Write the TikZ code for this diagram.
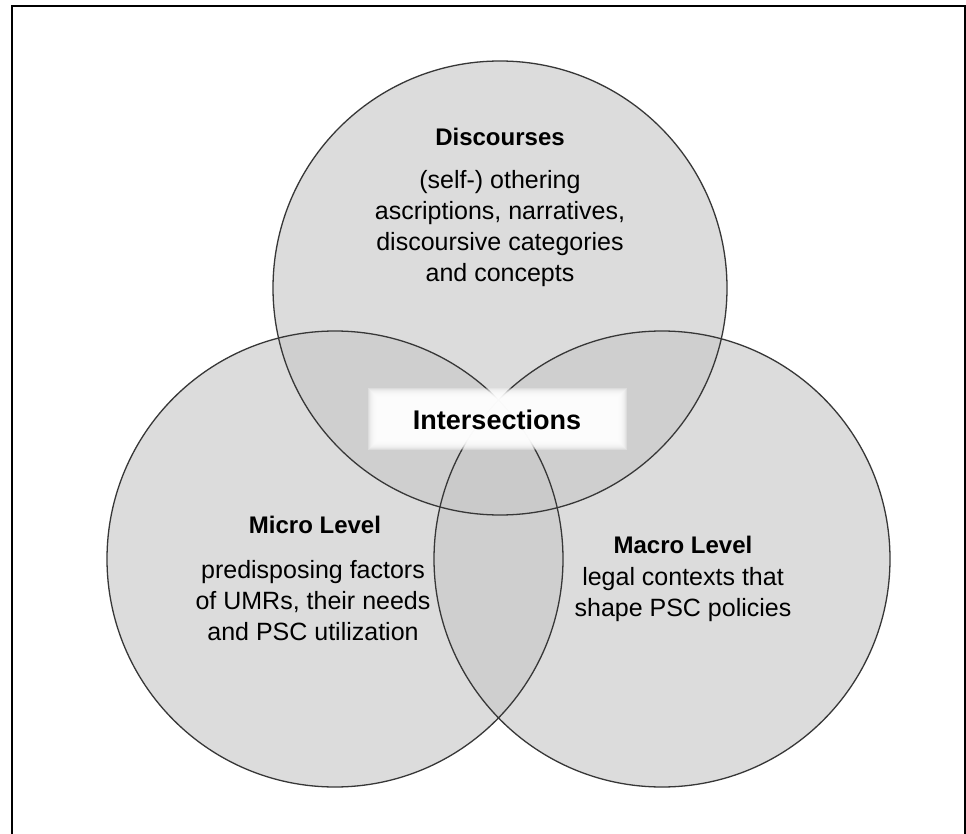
\documentclass[tikz,border=0pt]{standalone}
\usepackage{fontspec}
\setmainfont{Liberation Sans}
\definecolor{cfill}{RGB}{200,200,200}
\definecolor{lineclr}{RGB}{55,55,55}
\begin{document}
\begin{tikzpicture}[x=1pt,y=-1pt,
  circfill/.style={fill=cfill, fill opacity=0.62},
  circline/.style={draw=lineclr, line width=1.3pt},
  head/.style={font=\bfseries\fontsize{24}{30}\selectfont, align=center, inner sep=0pt},
  body/.style={font=\fontsize{25}{31}\selectfont, align=center, inner sep=0pt},
  ihead/.style={font=\bfseries\fontsize{27}{30}\selectfont, inner sep=0pt},
  glow/.style={fill=white, fill opacity=0.28, draw=none}]
\useasboundingbox (0,0) rectangle (966,834);
\clip (0,0) rectangle (966,834);
\fill[white] (0,0) rectangle (966,834);
% frame
\draw[black, line width=2pt] (12,6) rectangle (965,850);
% circles
\coordinate (ctop) at (500,288);
\coordinate (cleft) at (335,559);
\coordinate (cright) at (662,559);
\fill[circfill] (ctop) circle (227);
\fill[circfill] (cleft) circle (228);
\fill[circfill] (cright) circle (228);
\draw[circline] (ctop) circle (227);
\draw[circline] (cleft) circle (228);
\draw[circline] (cright) circle (228);
% intersections glow box
\foreach \d in {9,8,7,6,5,4,3,2,1,0,-1,-2}{
  \fill[glow] (377-\d,397-\d) rectangle (618+\d,441+\d);
}
\node[ihead] (inter) at (497,420) {Intersections};
% texts
\node[head] (dhead) at (500,137) {Discourses};
\node[body] (dbody) at (500,229) {(self-) othering\\ascriptions, narratives,\\discoursive categories\\and concepts};
\node[head] (mihead) at (315,525) {Micro Level};
\node[body] (mibody) at (313,601) {predisposing factors\\of UMRs, their needs\\and PSC utilization};
\node[head] (mahead) at (683,545) {Macro Level};
\node[body] (mabody) at (683,595) {legal contexts that\\shape PSC policies};
\end{tikzpicture}
\end{document}
